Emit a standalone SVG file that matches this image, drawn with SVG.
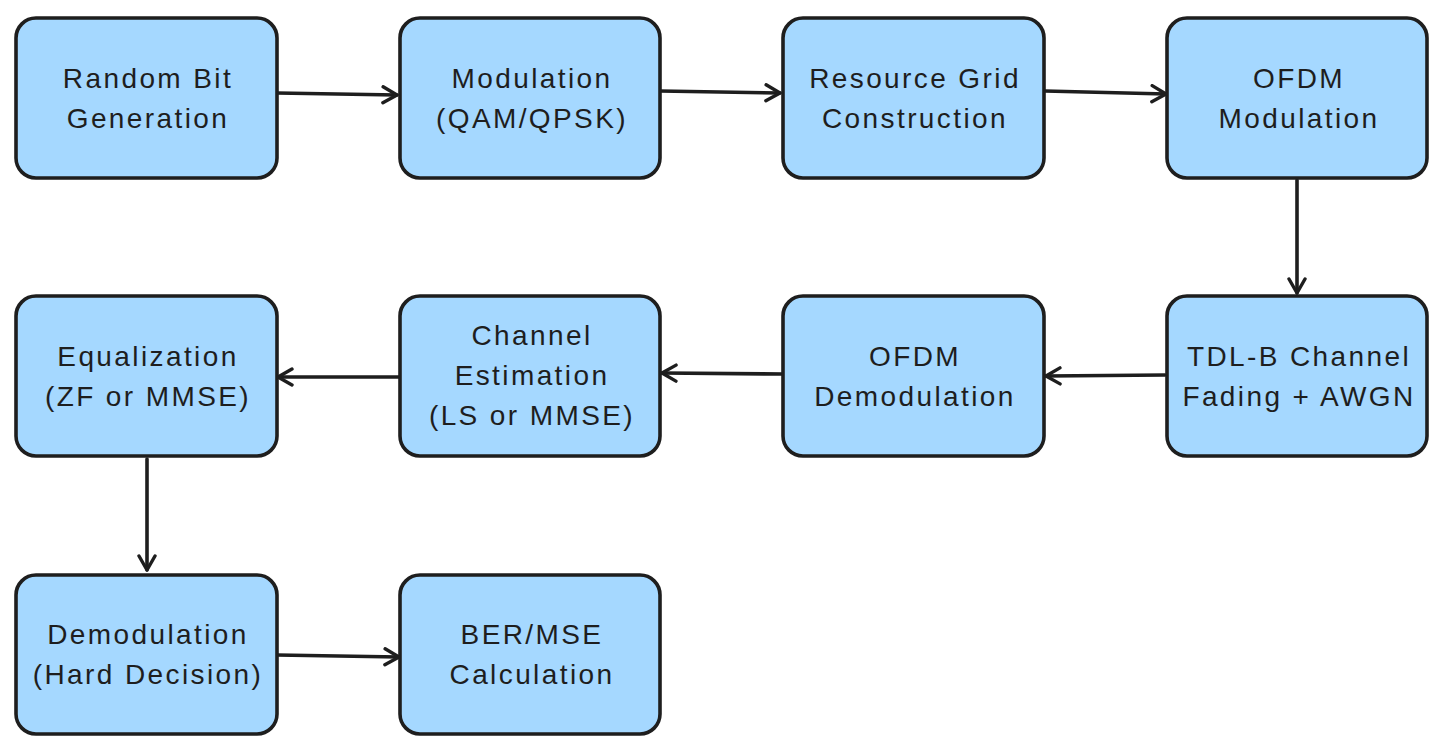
<svg xmlns="http://www.w3.org/2000/svg" width="1438" height="749" viewBox="0 0 1438 749">
<style>
.box{fill:#a5d8ff;stroke:#1e1e1e;stroke-width:3.6;}
.lbl{font-family:"Liberation Sans",Arial,sans-serif;font-size:28px;fill:#1e1e1e;text-anchor:middle;letter-spacing:2.4px;}
.edge{stroke:#1e1e1e;stroke-width:3.6;fill:none;stroke-linecap:round;}
</style>
<defs>
<marker id="arr" viewBox="0 0 20 20" refX="18" refY="10" markerWidth="20" markerHeight="20" markerUnits="userSpaceOnUse" orient="auto">
<polyline points="4,2 18,10 4,18" fill="none" stroke="#1e1e1e" stroke-width="3.4" stroke-linecap="round" stroke-linejoin="round"/>
</marker>
</defs>
<rect width="1438" height="749" fill="#ffffff"/>
<g id="connectors">
<path class="edge" d="M277,93 L397,95" marker-end="url(#arr)"/>
<path class="edge" d="M660,91 L780,93" marker-end="url(#arr)"/>
<path class="edge" d="M1045,91 L1166,94" marker-end="url(#arr)"/>
<path class="edge" d="M1297,180 L1297,293" marker-end="url(#arr)"/>
<path class="edge" d="M1165,375 L1046,376" marker-end="url(#arr)"/>
<path class="edge" d="M783,374 L662,373" marker-end="url(#arr)"/>
<path class="edge" d="M400,377 L278,377" marker-end="url(#arr)"/>
<path class="edge" d="M147,459 L147,570" marker-end="url(#arr)"/>
<path class="edge" d="M277,655 L399,657" marker-end="url(#arr)"/>
</g>
<g id="n1"><rect class="box" x="16" y="18" width="261" height="160" rx="20"/>
<text class="lbl" x="148" y="88">Random Bit</text><text class="lbl" x="148" y="128">Generation</text></g>
<g id="n2"><rect class="box" x="400" y="18" width="260" height="160" rx="20"/>
<text class="lbl" x="532" y="88">Modulation</text><text class="lbl" x="532" y="128">(QAM/QPSK)</text></g>
<g id="n3"><rect class="box" x="783" y="18" width="261" height="160" rx="20"/>
<text class="lbl" x="915" y="88">Resource Grid</text><text class="lbl" x="915" y="128">Construction</text></g>
<g id="n4"><rect class="box" x="1167" y="18" width="260" height="160" rx="20"/>
<text class="lbl" x="1299" y="88">OFDM</text><text class="lbl" x="1299" y="128">Modulation</text></g>
<g id="n5"><rect class="box" x="1167" y="296" width="260" height="160" rx="20"/>
<text class="lbl" x="1299" y="366">TDL-B Channel</text><text class="lbl" x="1299" y="406">Fading + AWGN</text></g>
<g id="n6"><rect class="box" x="783" y="296" width="261" height="160" rx="20"/>
<text class="lbl" x="915" y="366">OFDM</text><text class="lbl" x="915" y="406">Demodulation</text></g>
<g id="n7"><rect class="box" x="400" y="296" width="260" height="160" rx="20"/>
<text class="lbl" x="532" y="345">Channel</text><text class="lbl" x="532" y="385">Estimation</text><text class="lbl" x="532" y="425">(LS or MMSE)</text></g>
<g id="n8"><rect class="box" x="16" y="296" width="261" height="160" rx="20"/>
<text class="lbl" x="148" y="366">Equalization</text><text class="lbl" x="148" y="406">(ZF or MMSE)</text></g>
<g id="n9"><rect class="box" x="16" y="575" width="261" height="159" rx="20"/>
<text class="lbl" x="148" y="644">Demodulation</text><text class="lbl" x="148" y="684">(Hard Decision)</text></g>
<g id="n10"><rect class="box" x="400" y="575" width="260" height="159" rx="20"/>
<text class="lbl" x="532" y="644">BER/MSE</text><text class="lbl" x="532" y="684">Calculation</text></g>
</svg>
